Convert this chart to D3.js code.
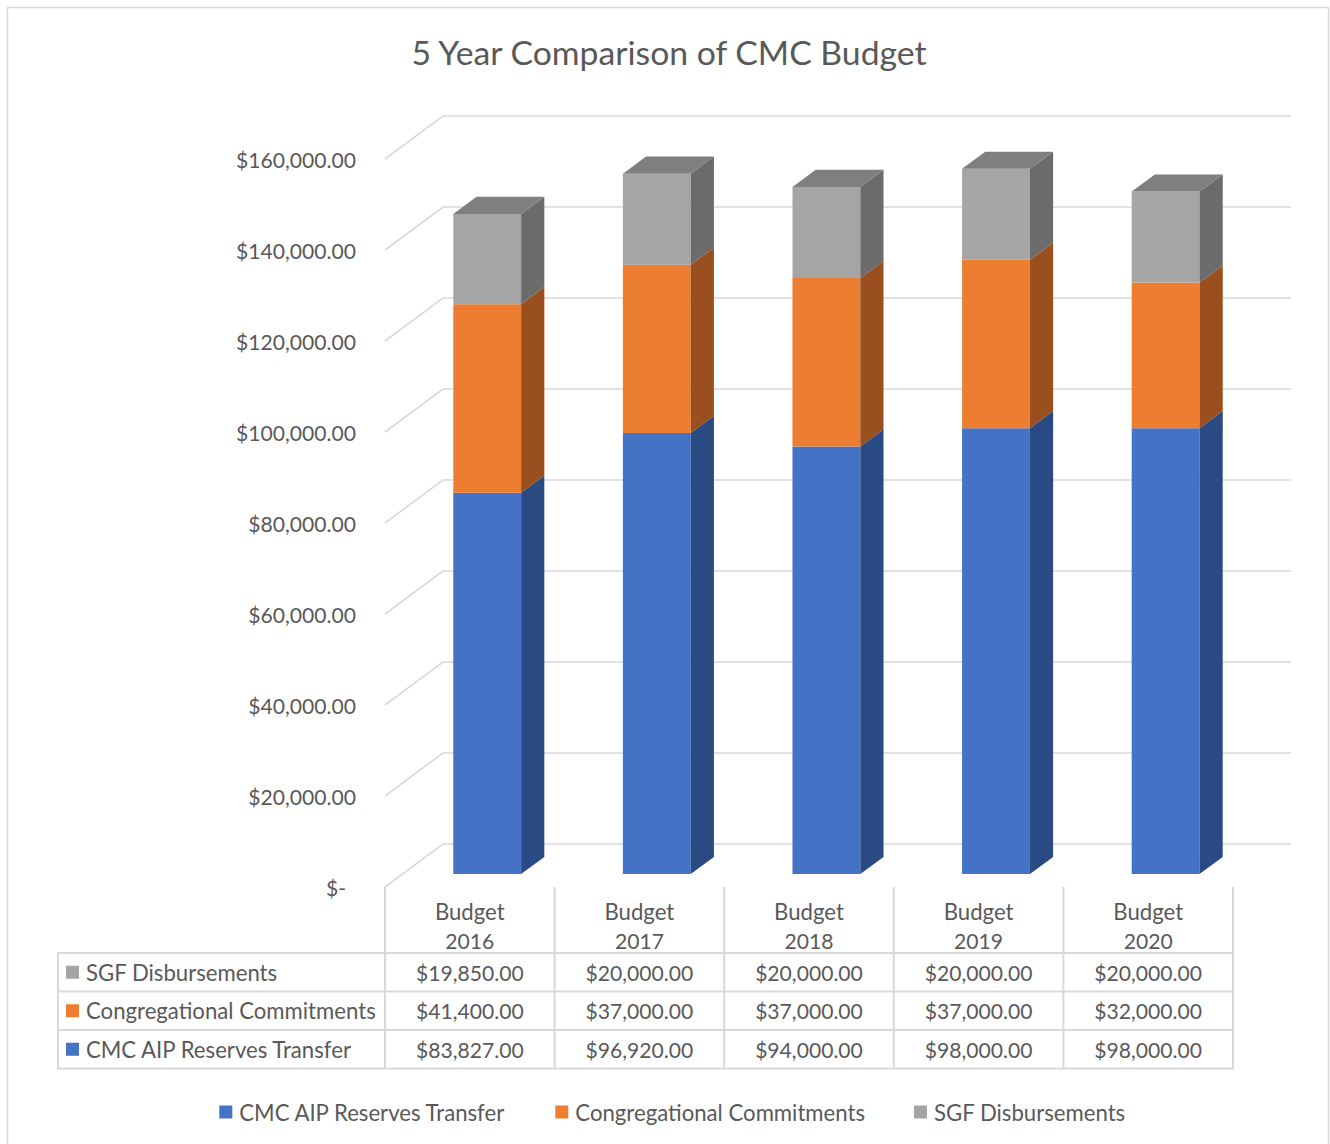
<!DOCTYPE html>
<html>
<head>
<meta charset="utf-8">
<script src="https://cdn.jsdelivr.net/npm/d3@7"></script>
<style>
  html, body { margin: 0; padding: 0; background: #fff; }
  svg { display: block; }
</style>
</head>
<body>
<svg id="chart" width="1330" height="1144"></svg>
<script>
// ---- data ----
const categories = ["Budget 2016", "Budget 2017", "Budget 2018", "Budget 2019", "Budget 2020"];
const seriesNames = ["CMC AIP Reserves Transfer", "Congregational Commitments", "SGF Disbursements"];
const cmcReserves = [83827, 96920, 94000, 98000, 98000];
const congregational = [41400, 37000, 37000, 37000, 32000];
const sgfDisbursements = [19850, 20000, 20000, 20000, 20000];
const tickValues = [0, 20000, 40000, 60000, 80000, 100000, 120000, 140000, 160000];
const titleText = "5 Year Comparison of CMC Budget";

// ---- style ----
const FONT = "Lato, 'Open Sans', sans-serif";
const TEXT = "#595959";
const GRID = "#d9d9d9";
const colors = {
  front: ["#4472C4", "#ED7D31", "#A5A5A5"],
  side:  ["#2A4A84", "#9A4F1E", "#6B6B6B"],
  top:   ["#3A62AA", "#C9692A", "#7F7F7F"]
};

// measure text to size the labels
const ctx = document.createElement("canvas").getContext("2d");
function fitSize(text, width) {
  ctx.font = `100px ${FONT}`;
  return 100 * width / ctx.measureText(text).width;
}
const numSize = Math.min(21.5, fitSize("$160,000.00", 120));
const wordSize = Math.min(22.5, fitSize("Congregational Commitments", 290));
const titleSize = fitSize(titleText, 518);

const svg = d3.select("#chart");

// chart frame
svg.append("rect").attr("x", 7.5).attr("y", 7.5).attr("width", 1321).attr("height", 1160)
  .attr("fill", "#fff").attr("stroke", GRID).attr("stroke-width", 1.5);

// title
svg.append("text").attr("x", 669).attr("y", 52).attr("text-anchor", "middle")
  .attr("dominant-baseline", "central").attr("font-family", FONT)
  .attr("font-size", titleSize).attr("fill", TEXT).text(titleText);

// ---- 3D plot geometry ----
const depthX = 58, depthY = -43;          // floor depth offset
const x = d3.scaleBand().domain(categories).range([385, 1233]).paddingInner(0).paddingOuter(0);
const y = d3.scaleLinear().domain([0, 160000]).range([887, 159]);
const z0 = 0.3, z1 = 0.7;                 // bar depth span within the floor
const barFrac = 0.4;                      // gap width 150%

const grid = svg.append("g").attr("fill", "none").attr("stroke", GRID).attr("stroke-width", 1.6);
tickValues.forEach(v => {
  const yf = y(v), yb = y(v) + depthY;
  grid.append("path").attr("d", `M385,${yf}L${385 + depthX},${yb}L${1233 + depthX},${yb}`);
});

// axis labels
const fmt = d3.format("$,.2f");
svg.append("g").selectAll("text").data(tickValues).join("text")
  .attr("x", d => d === 0 ? 346 : 356).attr("y", d => y(d))
  .attr("text-anchor", "end").attr("dominant-baseline", "central")
  .attr("font-family", FONT).attr("font-size", numSize).attr("fill", TEXT)
  .text(d => d === 0 ? "$-" : fmt(d));

// stacked bars
const stackData = categories.map((c, i) => ({
  cat: c, s0: cmcReserves[i], s1: congregational[i], s2: sgfDisbursements[i]
}));
const stacked = d3.stack().keys(["s0", "s1", "s2"])(stackData);

const bars = svg.append("g");
categories.forEach((c, i) => {
  const bw = x.bandwidth() * barFrac;
  const xl = x(c) + (x.bandwidth() - bw) / 2 + depthX * z0;
  const xr = xl + bw;
  const ddx = depthX * (z1 - z0), ddy = depthY * (z1 - z0);
  const off = depthY * z0;
  stacked.forEach((layer, k) => {
    const [a, b] = layer[i];
    const yb = y(a) + off, yt = y(b) + off;
    const g = bars.append("g");
    g.append("path").attr("fill", colors.front[k])
      .attr("d", `M${xl},${yb}L${xr},${yb}L${xr},${yt}L${xl},${yt}Z`);
    g.append("path").attr("fill", colors.side[k])
      .attr("d", `M${xr},${yb}L${xr + ddx},${yb + ddy}L${xr + ddx},${yt + ddy}L${xr},${yt}Z`);
    if (k === stacked.length - 1) {
      g.append("path").attr("fill", colors.top[k])
        .attr("d", `M${xl},${yt}L${xr},${yt}L${xr + ddx},${yt + ddy}L${xl + ddx},${yt + ddy}Z`);
    }
  });
});

// ---- data table ----
const rowTops = [953, 991.5, 1030];
const rowH = 38.5;
const tableSeries = [
  { name: seriesNames[2], values: sgfDisbursements, color: colors.front[2] },
  { name: seriesNames[1], values: congregational, color: colors.front[1] },
  { name: seriesNames[0], values: cmcReserves, color: colors.front[0] }
];
const tbl = svg.append("g");
const tl = tbl.append("g").attr("stroke", GRID).attr("stroke-width", 2).attr("fill", "none");
// vertical rules
d3.range(categories.length + 1).forEach(j => {
  const xv = 385 + j * x.bandwidth();
  tl.append("line").attr("x1", xv).attr("x2", xv).attr("y1", 887).attr("y2", 1068.5);
});
tl.append("line").attr("x1", 58).attr("x2", 58).attr("y1", 953).attr("y2", 1068.5);
// horizontal rules
[953, 991.5, 1030, 1068.5].forEach(yy => {
  tl.append("line").attr("x1", 57).attr("x2", 1234).attr("y1", yy).attr("y2", yy);
});

// header
categories.forEach(c => {
  const parts = c.split(" ");
  const cx = x(c) + x.bandwidth() / 2;
  parts.forEach((p, j) => {
    tbl.append("text").attr("x", cx).attr("y", 911 + j * 29)
      .attr("text-anchor", "middle").attr("dominant-baseline", "central")
      .attr("font-family", FONT).attr("font-size", j === 0 ? wordSize : numSize)
      .attr("fill", TEXT).text(p);
  });
});

tableSeries.forEach((s, r) => {
  const cy = rowTops[r] + rowH / 2;
  tbl.append("rect").attr("x", 66).attr("y", cy - 6.5).attr("width", 13).attr("height", 13).attr("fill", s.color);
  tbl.append("text").attr("x", 86).attr("y", cy).attr("dominant-baseline", "central")
    .attr("font-family", FONT).attr("font-size", wordSize).attr("fill", TEXT).text(s.name);
  s.values.forEach((v, i) => {
    tbl.append("text").attr("x", x(categories[i]) + x.bandwidth() / 2).attr("y", cy)
      .attr("text-anchor", "middle").attr("dominant-baseline", "central")
      .attr("font-family", FONT).attr("font-size", numSize).attr("fill", TEXT).text(fmt(v));
  });
});

// ---- legend ----
ctx.font = `${wordSize}px ${FONT}`;
const items = seriesNames.map((n, k) => ({ name: n, color: colors.front[k], w: 20 + ctx.measureText(n).width }));
const gap = 49;
const total = d3.sum(items, d => d.w) + gap * (items.length - 1);
let lx = 672.5 - total / 2;
const leg = svg.append("g");
items.forEach(it => {
  leg.append("rect").attr("x", lx).attr("y", 1112 - 6.5).attr("width", 13).attr("height", 13).attr("fill", it.color);
  leg.append("text").attr("x", lx + 20).attr("y", 1112).attr("dominant-baseline", "central")
    .attr("font-family", FONT).attr("font-size", wordSize).attr("fill", TEXT).text(it.name);
  lx += it.w + gap;
});
</script>
</body>
</html>
